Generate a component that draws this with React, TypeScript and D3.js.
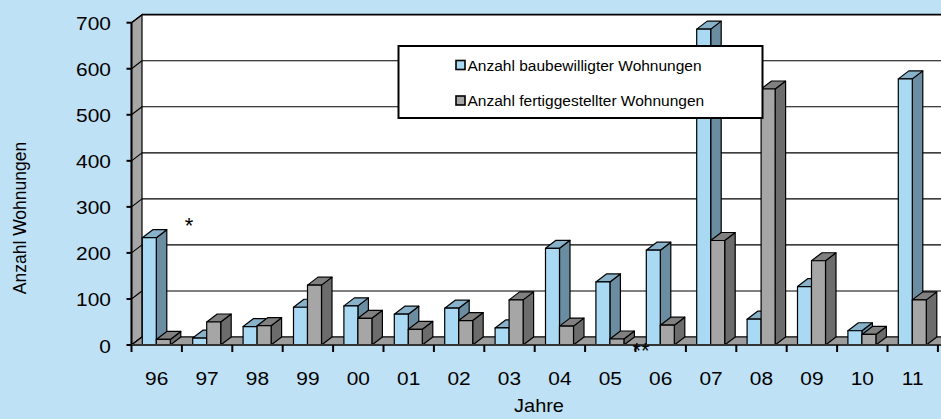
import React, { useEffect } from "react";
import * as d3 from "d3";

const years = ["96", "97", "98", "99", "00", "01", "02", "03", "04", "05", "06", "07", "08", "09", "10", "11"];
const baubewilligt = [233, 15, 40, 82, 85, 67, 80, 37, 210, 137, 206, 686, 56, 127, 31, 578];
const fertiggestellt = [12, 50, 42, 130, 58, 34, 53, 98, 41, 13, 43, 227, 556, 183, 23, 98];
const yTicks = [0, 100, 200, 300, 400, 500, 600, 700];
const seriesNames = ["Anzahl baubewilligter Wohnungen", "Anzahl fertiggestellter Wohnungen"];

const W = 941;
const H = 419;
const DX = 10.5;
const DY = 8;
const FONT = "'Liberation Sans', Arial, Helvetica, sans-serif";

const palettes = [
  { front: "#A9D9F3", side: "#6A8DA2", top: "#88B2CA" },
  { front: "#A6A6A6", side: "#6C6C6C", top: "#808080" },
];

export default function App() {
  useEffect(() => {
    document.body.style.margin = "0";
  }, []);

  const axisX = 131.5;
  const catW = 50.4;
  const x = d3.scaleBand<string>().domain(years).range([axisX, axisX + catW * years.length]).paddingInner(0).paddingOuter(0);
  const y = d3.scaleLinear().domain([0, 700]).range([345, 22.7]);
  const barW = 14;
  const barOffset = 10.8;
  const y0 = y(0);

  const bars: JSX.Element[] = [];
  years.forEach((yr, i) => {
    [baubewilligt[i], fertiggestellt[i]].forEach((v, s) => {
      const x0 = (x(yr) as number) + barOffset + s * barW;
      const x1 = x0 + barW;
      const yt = y(v);
      const p = palettes[s];
      bars.push(
        <g key={`${yr}-${s}`} stroke="#000" strokeWidth={1.2} strokeLinejoin="round">
          <polygon points={`${x1},${y0} ${x1 + DX},${y0 - DY} ${x1 + DX},${yt - DY} ${x1},${yt}`} fill={p.side} />
          <polygon points={`${x0},${yt} ${x0 + DX},${yt - DY} ${x1 + DX},${yt - DY} ${x1},${yt}`} fill={p.top} />
          <rect x={x0} y={yt} width={barW} height={y0 - yt} fill={p.front} />
        </g>
      );
    });
  });

  const rightEnd = W + 20;
  const backLeft = axisX + DX;

  return (
    <svg width={W} height={H} style={{ display: "block" }} fontFamily={FONT}>
      <rect x={0} y={0} width={W} height={H} fill="#BFE1F5" />
      {/* back wall */}
      <rect x={backLeft} y={y(700) - DY} width={rightEnd - backLeft} height={y0 - y(700)} fill="#FFFFFF" />
      {yTicks.map((t) => (
        <line key={`g${t}`} x1={backLeft} x2={rightEnd} y1={y(t) - DY} y2={y(t) - DY} stroke="#000" strokeWidth={t === 700 ? 1.8 : 1.1} />
      ))}
      {/* left wall */}
      <polygon
        points={`${axisX},${y(700)} ${backLeft},${y(700) - DY} ${backLeft},${y0 - DY} ${axisX},${y0}`}
        fill="#A6A6A6"
        stroke="#000"
        strokeWidth={1.2}
      />
      {yTicks.map((t) => (
        <line key={`d${t}`} x1={axisX} x2={backLeft} y1={y(t)} y2={y(t) - DY} stroke="#000" strokeWidth={1.1} />
      ))}
      {/* floor */}
      <polygon
        points={`${axisX},${y0} ${rightEnd},${y0} ${rightEnd + DX},${y0 - DY} ${backLeft},${y0 - DY}`}
        fill="#9C9C9C"
        stroke="#000"
        strokeWidth={1.2}
      />
      {bars}
      {/* front axes */}
      <line x1={axisX} x2={axisX} y1={y(700)} y2={y0} stroke="#000" strokeWidth={2} />
      <line x1={axisX} x2={rightEnd} y1={y0} y2={y0} stroke="#333" strokeWidth={1.8} />
      {yTicks.map((t) => (
        <g key={`t${t}`}>
          <line x1={axisX - 5} x2={axisX} y1={y(t)} y2={y(t)} stroke="#000" strokeWidth={2} />
          <text
            transform={`translate(111,${y(t) + 7.5}) scale(1.1,1)`}
            textAnchor="end"
            fontSize={19}
            fill="#000"
          >
            {t}
          </text>
        </g>
      ))}
      {years.map((yr) => (
        <line key={`ct${yr}`} x1={x(yr) as number} x2={x(yr) as number} y1={y0} y2={y0 + 7} stroke="#000" strokeWidth={2} />
      ))}
      <line x1={axisX + catW * years.length} x2={axisX + catW * years.length} y1={y0} y2={y0 + 7} stroke="#000" strokeWidth={2} />
      {years.map((yr) => (
        <text
          key={`cl${yr}`}
          transform={`translate(${(x(yr) as number) + x.bandwidth() / 2},385) scale(1.1,1)`}
          textAnchor="middle"
          fontSize={19}
          fill="#000"
        >
          {yr}
        </text>
      ))}
      <text transform="translate(539,412) scale(1.05,1)" textAnchor="middle" fontSize={19} fill="#000">
        Jahre
      </text>
      <text transform="translate(26,218) rotate(-90)" textAnchor="middle" fontSize={17.5} fill="#000">
        Anzahl Wohnungen
      </text>
      {/* annotations */}
      <text x={189} y={233} textAnchor="middle" fontSize={22} fill="#000">*</text>
      <text x={641} y={358} textAnchor="middle" fontSize={22} fill="#000">**</text>
      {/* legend */}
      <rect x={398.5} y={46} width={364} height={72} fill="#FFFFFF" stroke="#000" strokeWidth={2} />
      {seriesNames.map((n, i) => (
        <g key={n}>
          <rect x={456} y={(i === 0 ? 65 : 100.5) - 4.5} width={9} height={9} fill={palettes[i].front} stroke="#000" strokeWidth={1.6} />
          <text x={467.5} y={i === 0 ? 70.5 : 106} fontSize={15.5} fill="#000">
            {n}
          </text>
        </g>
      ))}
    </svg>
  );
}
